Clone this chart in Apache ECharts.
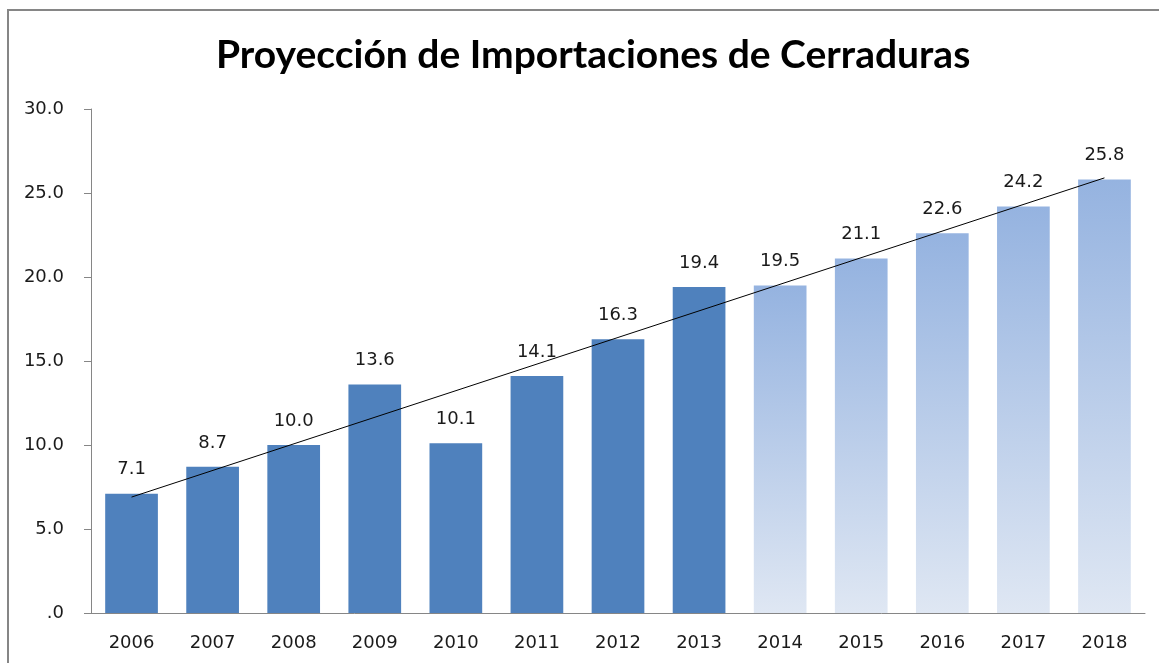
<!DOCTYPE html>
<html>
<head>
  <meta charset="utf-8">
  <title>Proyección de Importaciones de Cerraduras</title>
  <script src="https://cdn.jsdelivr.net/npm/echarts@6/dist/echarts.min.js"></script>
  <style>
    html, body { margin: 0; padding: 0; background: #fff; }
    #chart { width: 1159px; height: 663px; }
  </style>
</head>
<body>
<div id="chart"></div>
<script>
  // data
  const years = ['2006', '2007', '2008', '2009', '2010', '2011', '2012', '2013', '2014', '2015', '2016', '2017', '2018'];
  const importaciones = [7.1, 8.7, 10.0, 13.6, 10.1, 14.1, 16.3, 19.4, 19.5, 21.1, 22.6, 24.2, 25.8];
  const firstProjected = 8; // 2014 onwards are projections
  const trendEnds = [6.9, 25.9]; // trend line at 2006 and 2018

  const chart = echarts.init(document.getElementById('chart'));

  const barData = importaciones.map(function (v, i) {
    if (i < firstProjected) {
      return { value: v, itemStyle: { color: '#4F81BD' } };
    }
    return {
      value: v,
      itemStyle: {
        color: new echarts.graphic.LinearGradient(0, 0, 0, 1, [
          { offset: 0, color: '#95B3E0' },
          { offset: 1, color: '#DFE7F3' }
        ])
      }
    };
  });

  chart.setOption({
    animation: false,
    title: {
      text: 'Proyección de Importaciones de Cerraduras',
      left: 211,
      top: 31,
      textStyle: {
        fontFamily: 'Lato',
        fontWeight: 'bold',
        fontSize: 39,
        color: '#000'
      }
    },
    graphic: [{
      type: 'rect',
      shape: { x: 8, y: 10, width: 1200, height: 700 },
      style: { fill: 'none', stroke: '#868686', lineWidth: 2 },
      silent: true
    }],
    grid: { left: 91, right: 14, top: 109, bottom: 50 },
    xAxis: {
      type: 'category',
      data: years,
      axisLine: { lineStyle: { color: '#868686' } },
      axisTick: { length: 7, lineStyle: { color: '#868686' } },
      axisLabel: {
        margin: 21,
        fontFamily: 'DejaVu Sans',
        fontSize: 18,
        color: '#1a1a1a'
      }
    },
    yAxis: {
      type: 'value',
      min: 0,
      max: 30,
      interval: 5,
      splitLine: { show: false },
      axisLine: { show: true, lineStyle: { color: '#868686' } },
      axisTick: { show: true, length: 7, lineStyle: { color: '#868686' } },
      axisLabel: {
        margin: 27,
        fontFamily: 'DejaVu Sans',
        fontSize: 18,
        color: '#1a1a1a',
        formatter: function (v) { return v === 0 ? '.0' : v.toFixed(1); }
      }
    },
    series: [{
      type: 'bar',
      data: barData,
      barWidth: '65%',
      label: {
        show: true,
        position: 'top',
        distance: 15,
        fontFamily: 'DejaVu Sans',
        fontSize: 18,
        color: '#1a1a1a',
        formatter: function (p) { return p.value.toFixed(1); }
      }
    }, {
      type: 'line',
      data: [[0, trendEnds[0]], [years.length - 1, trendEnds[1]]],
      symbol: 'none',
      silent: true,
      lineStyle: { color: '#000', width: 1 },
      z: 5
    }]
  });
</script>
</body>
</html>
